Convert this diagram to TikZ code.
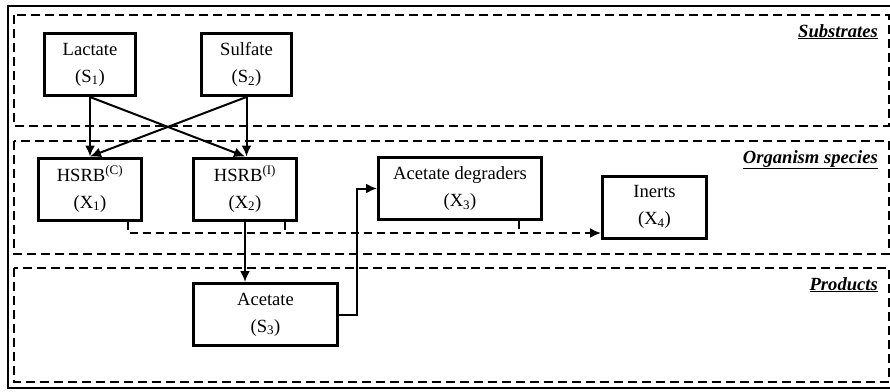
\documentclass[tikz,border=0pt]{standalone}
\usepackage{fontspec}
\setmainfont{Liberation Serif}
\usetikzlibrary{positioning,arrows.meta}

\tikzset{
  species/.style={draw, line width=3pt, align=center, inner sep=0pt, minimum height=62pt},
  zone/.style={draw, line width=2pt, dash pattern=on 9pt off 5pt},
  zonelabel/.style={anchor=base east, inner sep=0pt, font=\fontsize{18.6}{27}\selectfont\bfseries\itshape},
  flow/.style={line width=2pt, -{Latex[length=11pt,width=10pt]}},
  decay/.style={line width=2pt, dash pattern=on 8pt off 5pt},
}

\begin{document}
\begin{tikzpicture}[x=1pt, y=-1pt, font=\fontsize{18.6}{27}\selectfont]
  \useasboundingbox (0,0) rectangle (890,391);
  \draw[line width=2pt] (8,6) rectangle (894,388);

  % zones
  \draw[zone] (14,15) rectangle (889,126);
  \draw[zone] (14,141) rectangle (889,254);
  \draw[zone] (14,268) rectangle (889,382);
  \node (lsub) [zonelabel] at (878,37) {\underline{Substrates}};
  \node (lorg) [zonelabel] at (878,163) {\underline{Organism species}};
  \node (lprod) [zonelabel] at (878,290) {\underline{Products}};

  % substrates
  \node (S1) [species, minimum width=91pt] at (90,64.5) {Lactate\\(S\textsubscript{1})};
  \node (S2) [species, minimum width=90pt] at (246.5,64.5) {Sulfate\\(S\textsubscript{2})};

  % organisms
  \node (X1) [species, minimum width=103pt] at (90,189) {HSRB\textsuperscript{(C)}\\(X\textsubscript{1})};
  \node (X2) [species, minimum width=103pt] at (245,189) {HSRB\textsuperscript{(I)}\\(X\textsubscript{2})};
  \node (X3) [species, minimum width=163pt] at (460,188.5) {Acetate degraders\\(X\textsubscript{3})};
  \node (X4) [species, minimum width=104pt] at (654.5,207) {Inerts\\(X\textsubscript{4})};

  % products
  \node (S3) [species, minimum width=144pt] at (265.5,314.5) {Acetate\\(S\textsubscript{3})};

  \draw[flow] (S1.south) -- (X1.north);
  \draw[flow] (S2.south) -- (S2.south |- X2.north);
  \draw[flow] (S1.south) -- (X2.north);
  \draw[flow] (S2.south) -- (X1.north);
  \draw[flow] (X2.south) -- (X2.south |- S3.north);
  \draw[flow] (S3.east) -- ++(18,0) |- (X3.west);

  % decay to inerts
  \coordinate (bus) at (0,233);
  \coordinate (d1) at ([xshift=-15pt]X1.south east);
  \coordinate (d2) at ([xshift=-13pt]X2.south east);
  \coordinate (d3) at ([xshift=-24pt]X3.south east);
  \draw[decay, -{Latex[length=11pt,width=10pt]}] (d1) |- (X4.west |- bus);
  \draw[decay] (d2) -- (d2 |- bus);
  \draw[decay] (d3) -- (d3 |- bus);
\end{tikzpicture}
\end{document}
